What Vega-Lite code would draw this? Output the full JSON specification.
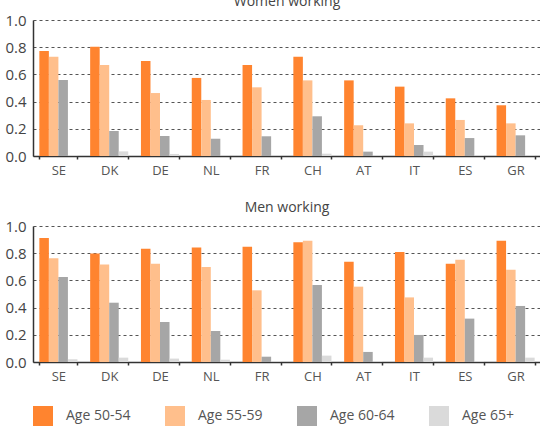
{
  "$schema": "https://vega.github.io/schema/vega-lite/v6.json",
  "background": "white",
  "padding": {"left": 4, "top": -5, "right": 0, "bottom": 0},
  "data": {
    "values": [
      {"sex": "Women", "country": "SE", "age": "Age 50-54", "share": 0.772},
      {"sex": "Women", "country": "SE", "age": "Age 55-59", "share": 0.730},
      {"sex": "Women", "country": "SE", "age": "Age 60-64", "share": 0.559},
      {"sex": "Women", "country": "SE", "age": "Age 65+", "share": 0.005},
      {"sex": "Women", "country": "DK", "age": "Age 50-54", "share": 0.804},
      {"sex": "Women", "country": "DK", "age": "Age 55-59", "share": 0.669},
      {"sex": "Women", "country": "DK", "age": "Age 60-64", "share": 0.184},
      {"sex": "Women", "country": "DK", "age": "Age 65+", "share": 0.034},
      {"sex": "Women", "country": "DE", "age": "Age 50-54", "share": 0.699},
      {"sex": "Women", "country": "DE", "age": "Age 55-59", "share": 0.463},
      {"sex": "Women", "country": "DE", "age": "Age 60-64", "share": 0.147},
      {"sex": "Women", "country": "DE", "age": "Age 65+", "share": 0.015},
      {"sex": "Women", "country": "NL", "age": "Age 50-54", "share": 0.574},
      {"sex": "Women", "country": "NL", "age": "Age 55-59", "share": 0.412},
      {"sex": "Women", "country": "NL", "age": "Age 60-64", "share": 0.127},
      {"sex": "Women", "country": "NL", "age": "Age 65+", "share": 0.004},
      {"sex": "Women", "country": "FR", "age": "Age 50-54", "share": 0.669},
      {"sex": "Women", "country": "FR", "age": "Age 55-59", "share": 0.505},
      {"sex": "Women", "country": "FR", "age": "Age 60-64", "share": 0.145},
      {"sex": "Women", "country": "FR", "age": "Age 65+", "share": 0.004},
      {"sex": "Women", "country": "CH", "age": "Age 50-54", "share": 0.730},
      {"sex": "Women", "country": "CH", "age": "Age 55-59", "share": 0.556},
      {"sex": "Women", "country": "CH", "age": "Age 60-64", "share": 0.292},
      {"sex": "Women", "country": "CH", "age": "Age 65+", "share": 0.017},
      {"sex": "Women", "country": "AT", "age": "Age 50-54", "share": 0.556},
      {"sex": "Women", "country": "AT", "age": "Age 55-59", "share": 0.226},
      {"sex": "Women", "country": "AT", "age": "Age 60-64", "share": 0.032},
      {"sex": "Women", "country": "AT", "age": "Age 65+", "share": 0.005},
      {"sex": "Women", "country": "IT", "age": "Age 50-54", "share": 0.510},
      {"sex": "Women", "country": "IT", "age": "Age 55-59", "share": 0.240},
      {"sex": "Women", "country": "IT", "age": "Age 60-64", "share": 0.081},
      {"sex": "Women", "country": "IT", "age": "Age 65+", "share": 0.032},
      {"sex": "Women", "country": "ES", "age": "Age 50-54", "share": 0.424},
      {"sex": "Women", "country": "ES", "age": "Age 55-59", "share": 0.265},
      {"sex": "Women", "country": "ES", "age": "Age 60-64", "share": 0.132},
      {"sex": "Women", "country": "ES", "age": "Age 65+", "share": 0.005},
      {"sex": "Women", "country": "GR", "age": "Age 50-54", "share": 0.373},
      {"sex": "Women", "country": "GR", "age": "Age 55-59", "share": 0.240},
      {"sex": "Women", "country": "GR", "age": "Age 60-64", "share": 0.152},
      {"sex": "Women", "country": "GR", "age": "Age 65+", "share": 0.004},
      {"sex": "Men", "country": "SE", "age": "Age 50-54", "share": 0.912},
      {"sex": "Men", "country": "SE", "age": "Age 55-59", "share": 0.762},
      {"sex": "Men", "country": "SE", "age": "Age 60-64", "share": 0.625},
      {"sex": "Men", "country": "SE", "age": "Age 65+", "share": 0.020},
      {"sex": "Men", "country": "DK", "age": "Age 50-54", "share": 0.797},
      {"sex": "Men", "country": "DK", "age": "Age 55-59", "share": 0.716},
      {"sex": "Men", "country": "DK", "age": "Age 60-64", "share": 0.436},
      {"sex": "Men", "country": "DK", "age": "Age 65+", "share": 0.032},
      {"sex": "Men", "country": "DE", "age": "Age 50-54", "share": 0.833},
      {"sex": "Men", "country": "DE", "age": "Age 55-59", "share": 0.723},
      {"sex": "Men", "country": "DE", "age": "Age 60-64", "share": 0.294},
      {"sex": "Men", "country": "DE", "age": "Age 65+", "share": 0.025},
      {"sex": "Men", "country": "NL", "age": "Age 50-54", "share": 0.841},
      {"sex": "Men", "country": "NL", "age": "Age 55-59", "share": 0.699},
      {"sex": "Men", "country": "NL", "age": "Age 60-64", "share": 0.228},
      {"sex": "Men", "country": "NL", "age": "Age 65+", "share": 0.017},
      {"sex": "Men", "country": "FR", "age": "Age 50-54", "share": 0.848},
      {"sex": "Men", "country": "FR", "age": "Age 55-59", "share": 0.527},
      {"sex": "Men", "country": "FR", "age": "Age 60-64", "share": 0.039},
      {"sex": "Men", "country": "FR", "age": "Age 65+", "share": 0.005},
      {"sex": "Men", "country": "CH", "age": "Age 50-54", "share": 0.880},
      {"sex": "Men", "country": "CH", "age": "Age 55-59", "share": 0.892},
      {"sex": "Men", "country": "CH", "age": "Age 60-64", "share": 0.566},
      {"sex": "Men", "country": "CH", "age": "Age 65+", "share": 0.047},
      {"sex": "Men", "country": "AT", "age": "Age 50-54", "share": 0.738},
      {"sex": "Men", "country": "AT", "age": "Age 55-59", "share": 0.554},
      {"sex": "Men", "country": "AT", "age": "Age 60-64", "share": 0.074},
      {"sex": "Men", "country": "AT", "age": "Age 65+", "share": 0.005},
      {"sex": "Men", "country": "IT", "age": "Age 50-54", "share": 0.809},
      {"sex": "Men", "country": "IT", "age": "Age 55-59", "share": 0.475},
      {"sex": "Men", "country": "IT", "age": "Age 60-64", "share": 0.199},
      {"sex": "Men", "country": "IT", "age": "Age 65+", "share": 0.032},
      {"sex": "Men", "country": "ES", "age": "Age 50-54", "share": 0.723},
      {"sex": "Men", "country": "ES", "age": "Age 55-59", "share": 0.752},
      {"sex": "Men", "country": "ES", "age": "Age 60-64", "share": 0.319},
      {"sex": "Men", "country": "ES", "age": "Age 65+", "share": 0.005},
      {"sex": "Men", "country": "GR", "age": "Age 50-54", "share": 0.892},
      {"sex": "Men", "country": "GR", "age": "Age 55-59", "share": 0.679},
      {"sex": "Men", "country": "GR", "age": "Age 60-64", "share": 0.412},
      {"sex": "Men", "country": "GR", "age": "Age 65+", "share": 0.032}
    ]
  },
  "config": {
    "font": "Open Sans",
    "view": {"stroke": null},
    "concat": {"spacing": 24},
    "title": {"fontSize": 14, "fontWeight": "normal", "color": "#444444", "offset": 4, "anchor": "middle"},
    "axisX": {
      "domain": true, "domainColor": "#333333", "domainWidth": 1.5,
      "ticks": true, "tickBand": "extent", "tickSize": 3, "tickColor": "#333333", "tickWidth": 1.5,
      "labelFontSize": 13, "labelColor": "#555555", "labelPadding": 5, "labelAngle": 0,
      "grid": false, "title": null
    },
    "axisY": {
      "domain": true, "domainColor": "#333333", "domainWidth": 1.5,
      "ticks": false, "labelFontSize": 15, "labelColor": "#444444", "labelPadding": 7,
      "grid": true, "gridColor": "#555555", "gridDash": [3, 3], "gridWidth": 1,
      "title": null
    },
    "legend": {
      "orient": "bottom", "direction": "horizontal", "title": null,
      "symbolType": "square", "symbolSize": 400, "symbolStrokeWidth": 0,
      "labelFontSize": 14, "labelColor": "#555555", "labelOffset": 13,
      "columnPadding": 34, "offset": 23
    }
  },
  "vconcat": [
    {
      "title": "Women working",
      "width": 508,
      "height": 136,
      "transform": [{"filter": "datum.sex === 'Women'"}],
      "mark": {"type": "bar"},
      "encoding": {
        "x": {"field": "country", "type": "nominal", "sort": null,
              "scale": {"paddingInner": 0.25, "paddingOuter": 0.125}},
        "xOffset": {"field": "age", "type": "nominal", "scale": {"paddingInner": 0, "paddingOuter": 0}},
        "y": {"field": "share", "type": "quantitative",
              "scale": {"domain": [0, 1]},
              "axis": {"values": [0, 0.2, 0.4, 0.6, 0.8, 1.0], "format": ".1f"}},
        "color": {"field": "age", "type": "nominal",
                  "scale": {"domain": ["Age 50-54", "Age 55-59", "Age 60-64", "Age 65+"],
                            "range": ["#FF842F", "#FFBF8C", "#A6A6A6", "#DADADA"]}}
      }
    },
    {
      "title": "Men working",
      "width": 508,
      "height": 136,
      "transform": [{"filter": "datum.sex === 'Men'"}],
      "mark": {"type": "bar"},
      "encoding": {
        "x": {"field": "country", "type": "nominal", "sort": null,
              "scale": {"paddingInner": 0.25, "paddingOuter": 0.125}},
        "xOffset": {"field": "age", "type": "nominal", "scale": {"paddingInner": 0, "paddingOuter": 0}},
        "y": {"field": "share", "type": "quantitative",
              "scale": {"domain": [0, 1]},
              "axis": {"values": [0, 0.2, 0.4, 0.6, 0.8, 1.0], "format": ".1f"}},
        "color": {"field": "age", "type": "nominal",
                  "scale": {"domain": ["Age 50-54", "Age 55-59", "Age 60-64", "Age 65+"],
                            "range": ["#FF842F", "#FFBF8C", "#A6A6A6", "#DADADA"]}}
      }
    }
  ]
}
